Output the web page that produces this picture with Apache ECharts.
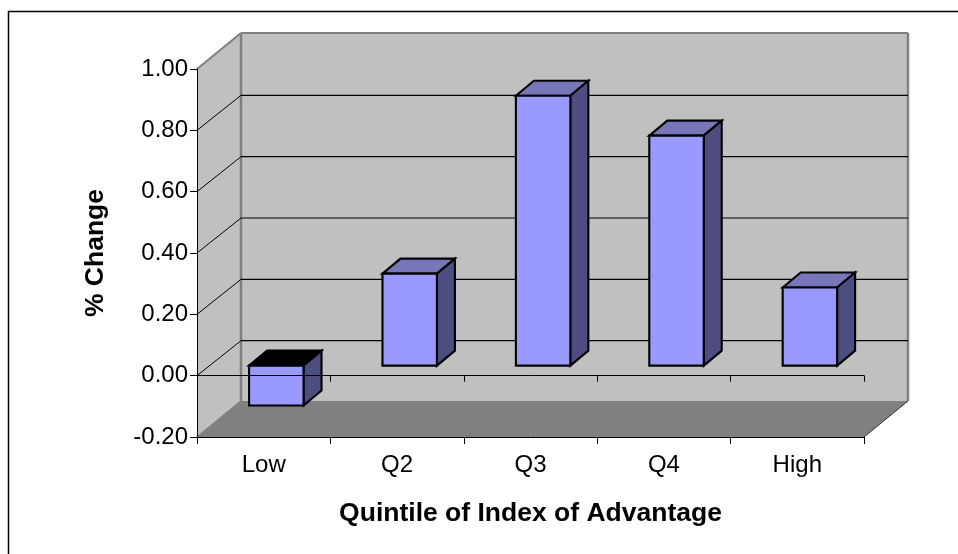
<!DOCTYPE html>
<html>
<head>
<meta charset="utf-8">
<style>html,body{margin:0;padding:0;background:#fff}#chart{width:958px;height:554px}</style>
<script src="https://cdn.jsdelivr.net/npm/echarts@6/dist/echarts.min.js"></script>
</head>
<body>
<div id="chart"></div>
<script>
// Percentage change by quintile, drawn as an oblique 3D column chart.
const categories = ['Low', 'Q2', 'Q3', 'Q4', 'High'];
const changes = [-0.13, 0.30, 0.88, 0.75, 0.255];
const yTicks = [-0.2, 0, 0.2, 0.4, 0.6, 0.8, 1.0];

const FONT = '"Liberation Sans", Arial, sans-serif';
const WALL = '#c0c0c0', FLOOR = '#808080', EDGE = '#808080';
const FACE = '#9999ff', TOP = '#7676b8', SIDE = '#4d4d80';

// Oblique projection: the box recedes by this offset in pixels.
const DEPTH = { x: 44, y: -36 };
// Columns sit part-way into the box and have their own depth.
const BAR_INSET = { x: 12.6, y: -10 };
const BAR_DEPTH = { x: 18, y: -15 };
const BAR_WIDTH_RATIO = 0.408;

function poly(points, fill, stroke, lineWidth) {
  return {
    type: 'polygon',
    shape: { points },
    style: { fill: fill, stroke: stroke || null, lineWidth: lineWidth || 0, lineJoin: 'miter' }
  };
}
function seg(x1, y1, x2, y2, stroke, lineWidth) {
  return {
    type: 'line',
    shape: { x1, y1, x2, y2 },
    style: { stroke, lineWidth, fill: null }
  };
}

// Floor, side wall and back wall of the box, spanned from the grid rectangle.
function renderBox(params) {
  const g = params.coordSys;
  const l = g.x, r = g.x + g.width, t = g.y, b = g.y + g.height;
  const dx = DEPTH.x, dy = DEPTH.y;
  return {
    type: 'group',
    children: [
      poly([[l + dx, t + dy], [r + dx, t + dy], [r + dx, b + dy], [l + dx, b + dy]], WALL),
      poly([[l, t], [l + dx, t + dy], [l + dx, b + dy], [l, b]], WALL),
      poly([[l, b], [l + dx, b + dy], [r + dx, b + dy], [r, b]], FLOOR),
      seg(l, t, l + dx, t + dy, EDGE, 2),
      seg(l + dx, t + dy, r + dx, t + dy, EDGE, 2),
      seg(l + dx, t + dy, l + dx, b + dy, EDGE, 2.5),
      seg(r + dx, t + dy, r + dx, b + dy, EDGE, 2.5),
      seg(l, b, l + dx, b + dy, EDGE, 1.5),
      seg(r, b, r + dx, b + dy, '#303030', 1)
    ]
  };
}

// Gridline on the side wall and along the back wall for one tick value.
function renderGridLine(params, api) {
  const g = params.coordSys;
  const y = api.coord([0, api.value(1)])[1];
  const l = g.x, r = g.x + g.width;
  const dx = DEPTH.x, dy = DEPTH.y + 1;
  return {
    type: 'group',
    children: [
      seg(l, y, l + dx, y + dy, '#000', 1),
      seg(l + dx, y + dy, r + dx, y + dy, '#000', 1.2)
    ]
  };
}

// One column: top, side and front faces projected from its value.
// A column below zero also carries the zero line across its faces.
function renderBar(params, api) {
  const v = api.value(1);
  const topPt = api.coord([api.value(0), Math.max(v, 0)]);
  const botPt = api.coord([api.value(0), Math.min(v, 0)]);
  const w = api.size([1, 0])[0] * BAR_WIDTH_RATIO;
  const l = topPt[0] + BAR_INSET.x - w / 2, r = l + w;
  const t = topPt[1] + BAR_INSET.y, b = botPt[1] + BAR_INSET.y;
  const dx = BAR_DEPTH.x, dy = BAR_DEPTH.y;
  const stroke = '#000', lw = 2.1;
  const children = [
    poly([[l, t], [l + dx, t + dy], [r + dx, t + dy], [r, t]], v < 0 ? '#000' : TOP, stroke, lw),
    poly([[r, t], [r + dx, t + dy], [r + dx, b + dy], [r, b]], SIDE, stroke, lw),
    poly([[l, t], [r, t], [r, b], [l, b]], FACE, stroke, lw)
  ];
  if (v < 0) {
    const zeroY = Math.round(topPt[1]) - 0.5;
    children.push(seg(l, zeroY, r + dx, zeroY, '#000', 1));
  }
  return { type: 'group', children };
}

const chart = echarts.init(document.getElementById('chart'), null, { renderer: 'canvas' });
chart.setOption({
  animation: false,
  backgroundColor: '#ffffff',
  textStyle: { fontFamily: FONT },
  grid: { left: 197, right: 94, top: 69, bottom: 117, containLabel: false },
  graphic: [
    {
      type: 'polyline',
      silent: true,
      shape: { points: [[8.5, 554], [8.5, 11.5], [958, 11.5]] },
      style: { stroke: '#000', lineWidth: 1.5, fill: null }
    }
  ],
  xAxis: [
    {
      type: 'category',
      data: categories,
      position: 'bottom',
      axisLine: { onZero: false, lineStyle: { color: '#000', width: 1 } },
      axisTick: { show: true, length: 7, alignWithLabel: false, lineStyle: { color: '#000' } },
      axisLabel: { color: '#000', fontSize: 24, fontFamily: FONT, margin: 16 },
      splitLine: { show: false },
      name: 'Quintile of Index of Advantage',
      nameLocation: 'middle',
      nameGap: 63,
      nameTextStyle: { color: '#000', fontSize: 26.5, fontWeight: 'bold', fontFamily: FONT }
    },
    {
      // Zero level line and its ticks.
      type: 'category',
      data: categories,
      position: 'bottom',
      axisLine: { onZero: true, lineStyle: { color: '#000', width: 1 } },
      axisTick: { show: true, length: 6, alignWithLabel: false, lineStyle: { color: '#000' } },
      axisLabel: { show: false },
      splitLine: { show: false }
    }
  ],
  yAxis: {
    type: 'value',
    min: -0.2,
    max: 1.0,
    interval: 0.2,
    axisLine: { show: true, lineStyle: { color: '#000', width: 1 } },
    axisTick: { show: true, length: 7, lineStyle: { color: '#000' } },
    axisLabel: { color: '#000', fontSize: 24, fontFamily: FONT, margin: 9, formatter: v => v.toFixed(2) },
    splitLine: { show: false },
    name: '% Change',
    nameLocation: 'middle',
    nameGap: 88,
    nameRotate: 90,
    nameTextStyle: { color: '#000', fontSize: 26.5, fontWeight: 'bold', fontFamily: FONT }
  },
  series: [
    {
      type: 'custom',
      name: 'box',
      z: -2,
      silent: true,
      renderItem: renderBox,
      encode: { x: 0, y: 1 },
      data: [[0, 0]]
    },
    {
      type: 'custom',
      name: 'grid lines',
      z: -1,
      silent: true,
      renderItem: renderGridLine,
      encode: { x: 0, y: 1 },
      data: yTicks.filter(v => v > -0.2 && v < 1.0).map(v => [0, v])
    },
    {
      type: 'custom',
      name: '% Change',
      z: 2,
      renderItem: renderBar,
      encode: { x: 0, y: 1 },
      data: changes.map((v, i) => [i, v])
    }
  ]
});
</script>
</body>
</html>
